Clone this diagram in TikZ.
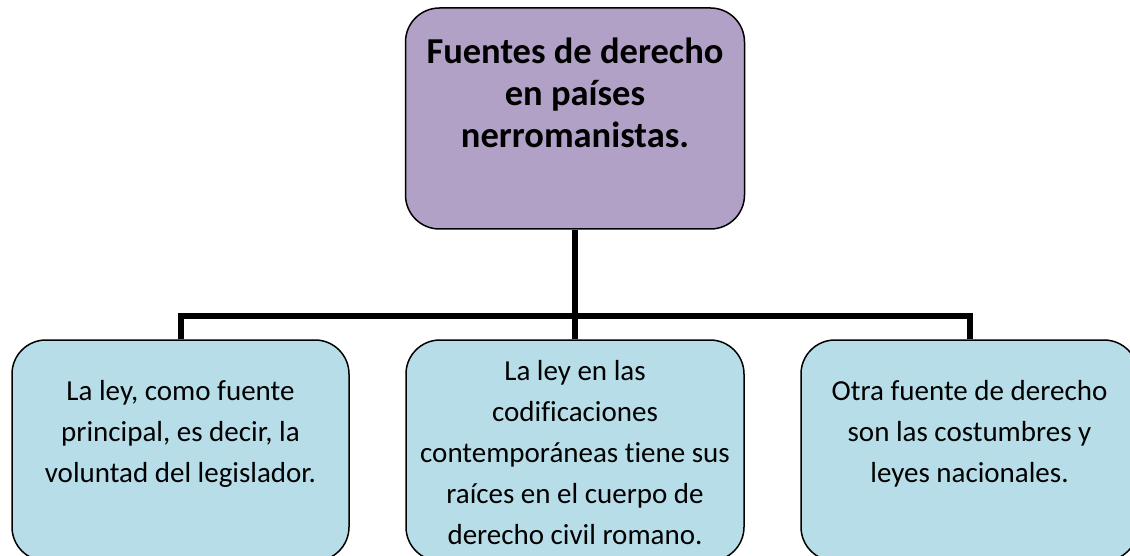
\documentclass[tikz,border=0pt]{standalone}
\usepackage{fontspec}
\setmainfont{Carlito}[RawFeature=-liga]
\definecolor{purp}{HTML}{B2A1C7}
\definecolor{aqua}{HTML}{B7DEE8}
\begin{document}
\begin{tikzpicture}[x=1pt,y=-1pt,
  box/.style={draw=black, line width=1.5pt, rounded corners=34pt, inner sep=0pt, minimum width=337pt, minimum height=221pt},
  topbox/.style={box, fill=purp},
  subbox/.style={box, fill=aqua},
  toptxt/.style={anchor=north, align=center, inner sep=0pt, font=\bfseries\fontsize{36.5}{42}\selectfont},
  subtxt/.style={anchor=north, align=center, inner sep=0pt, font=\fontsize{29}{41}\selectfont},
  conn/.style={line width=6pt}]
\useasboundingbox (0,0) rectangle (1130,556);
\clip (0,0) rectangle (1130,556);
\fill[white] (0,0) rectangle (1130,556);
\coordinate (bar) at (575,316);
\node[topbox, minimum width=339pt] (top) at (575,118.5) {};
\node[subbox] (b1) at (180.5,450.5) {};
\node[subbox, minimum width=338pt] (b2) at (575,450.5) {};
\node[subbox] (b3) at (969.5,450.5) {};
\draw[conn] (top.south) -- (b2.north);
\draw[conn] (b1.north) |- (bar) -| (b3.north);
\node[toptxt] (t0) at (575,33) {\rule{0pt}{30pt}Fuentes de derecho\\en países\\nerromanistas.};
\node[subtxt] (t1) at (180.5,375) {\rule{0pt}{25pt}La ley, como fuente\\principal, es decir, la\\voluntad del legislador.};
\node[subtxt] (t2) at (575,355) {\rule{0pt}{25pt}La ley en las\\codificaciones\\contemporáneas tiene sus\\raíces en el cuerpo de\\derecho civil romano.};
\node[subtxt] (t3) at (969.5,375) {\rule{0pt}{25pt}Otra fuente de derecho\\son las costumbres y\\leyes nacionales.};
\end{tikzpicture}
\end{document}
